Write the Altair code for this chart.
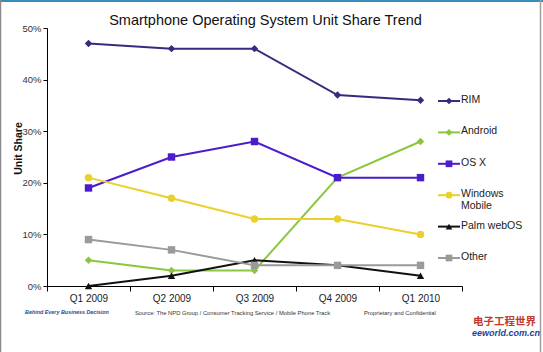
import altair as alt
import pandas as pd

title_text = "Smartphone Operating System Unit Share Trend"
quarters = ["Q1 2009", "Q2 2009", "Q3 2009", "Q4 2009", "Q1 2010"]
series = ["RIM", "Android", "OS X", "Windows Mobile", "Palm webOS", "Other"]
rim = [47, 46, 46, 37, 36]
android = [5, 3, 3, 21, 28]
osx = [19, 25, 28, 21, 21]
winmo = [21, 17, 13, 13, 10]
palm = [0, 2, 5, 4, 2]
other = [9, 7, 4, 4, 4]

colors = ["#3a2a7c", "#8cc63f", "#4a1ccc", "#ecd02a", "#111111", "#9a9a9a"]
shapes = ["diamond", "diamond", "square", "circle", "triangle-up", "square"]

values = [rim, android, osx, winmo, palm, other]
rows = []
for s, vals in zip(series, values):
    for q, v in zip(quarters, vals):
        rows.append({"quarter": q, "series": s, "share": v / 100})
df = pd.DataFrame(rows)
legend_df = pd.DataFrame({"series": series})

FONT = "Liberation Sans"

color_scale = alt.Scale(domain=series, range=colors)
shape_scale = alt.Scale(domain=series, range=shapes)

x_enc = alt.X(
    "quarter:N",
    sort=quarters,
    bandPosition=0.5,
    scale=alt.Scale(type="band", domain=quarters, paddingInner=0, paddingOuter=0),
    axis=alt.Axis(
        title=None,
        labelAngle=0,
        tickBand="extent",
        tickSize=5,
        tickColor="#000000",
        domainColor="#000000",
        labelFont=FONT,
        labelFontSize=10,
        labelColor="#222222",
        labelPadding=2,
        grid=False,
    ),
)
y_enc = alt.Y(
    "share:Q",
    scale=alt.Scale(domain=[0, 0.5], nice=False),
    axis=alt.Axis(
        title="Unit Share",
        format=".0%",
        values=[0, 0.1, 0.2, 0.3, 0.4, 0.5],
        tickSize=4,
        tickColor="#000000",
        domainColor="#000000",
        labelFont=FONT,
        labelFontSize=9.5,
        labelColor="#333333",
        labelPadding=2,
        titleFont=FONT,
        titleFontSize=10.5,
        titleFontWeight="bold",
        titleColor="#111111",
        titleX=-24,
        titleY=120,
        grid=False,
    ),
)
color_enc = alt.Color("series:N", scale=color_scale, legend=None)
shape_enc = alt.Shape("series:N", scale=shape_scale, legend=None)

lines = alt.Chart(df).mark_line(strokeWidth=2).encode(
    x=x_enc, y=y_enc, color=color_enc, detail="series:N"
)
points = alt.Chart(df).mark_point(filled=True, opacity=1, size=55).encode(
    x=x_enc, y=y_enc, color=color_enc, shape=shape_enc
)
main = alt.layer(lines, points)

# legend built as its own layer with an independent y scale
ly = alt.Y("series:N", sort=series,
           scale=alt.Scale(type="point", domain=series, range=[73, 230], padding=0),
           axis=None)
leg_line = alt.Chart(legend_df).mark_rule(strokeWidth=2).encode(
    x=alt.value(391), x2=alt.value(413), y=ly, color=color_enc
)
leg_pts = alt.Chart(legend_df).mark_point(filled=True, opacity=1, size=45).encode(
    x=alt.value(402), y=ly, color=color_enc, shape=shape_enc
)
leg_txt = alt.Chart(legend_df).transform_calculate(
    label="datum.series === 'Windows Mobile' ? 'Windows\\nMobile' : datum.series"
).mark_text(
    align="left", baseline="top", dy=-6, fontSize=10.5, font=FONT,
    color="#222222", lineBreak="\n", lineHeight=11.5
).encode(x=alt.value(414), y=ly, text="label:N")
legend = alt.layer(leg_line, leg_pts, leg_txt)

footer = pd.DataFrame({"t": [0]})
def note(text, x, y, size, color="#333333", style="normal", weight="normal",
         font=FONT, align="left"):
    return alt.Chart(footer).mark_text(
        text=text, align=align, baseline="middle", fontSize=size, color=color,
        fontStyle=style, fontWeight=weight, font=font,
    ).encode(x=alt.value(x), y=alt.value(y))

def frame(x, x2, y, y2, color, w):
    return alt.Chart(footer).mark_rule(color=color, strokeWidth=w).encode(
        x=alt.value(x), x2=alt.value(x2), y=alt.value(y), y2=alt.value(y2)
    )

notes = alt.layer(
    frame(-47, 496, -27, -27, "#3a8aba", 2),
    frame(-46.5, -46.5, -28, 324, "#8a8a8a", 1.5),
    frame(493.5, 493.5, -28, 324, "#a0a0a0", 1.5),
    note(title_text, 218.5, -7, 14.5, "#111111", align="center"),
    note("Behind Every Business Decision", -22, 284, 5.4, "#2a4a9a", "italic", "bold"),
    note("Source: The NPD Group / Consumer Tracking Service / Mobile Phone Track", 88, 285, 5.8),
    note("Proprietary and Confidential", 317, 285, 5.8),
    note("电子工程世界", 426, 294, 10.5, "#c0392b", font="Noto Sans CJK SC", weight="bold"),
    note("eeworld.com.cn", 425, 305, 9, "#1f3f9a", "italic", "bold"),
)

chart = alt.layer(main, legend, notes).resolve_scale(
    y="independent"
).properties(
    width=415,
    height=258,
    padding={"left": 47, "top": 28, "right": 81, "bottom": 66},
    autosize=alt.AutoSizeParams(type="none"),
    background="white",
).configure_view(stroke=None)

chart.save("out.html", embed_options={"renderer": "svg", "actions": False})
